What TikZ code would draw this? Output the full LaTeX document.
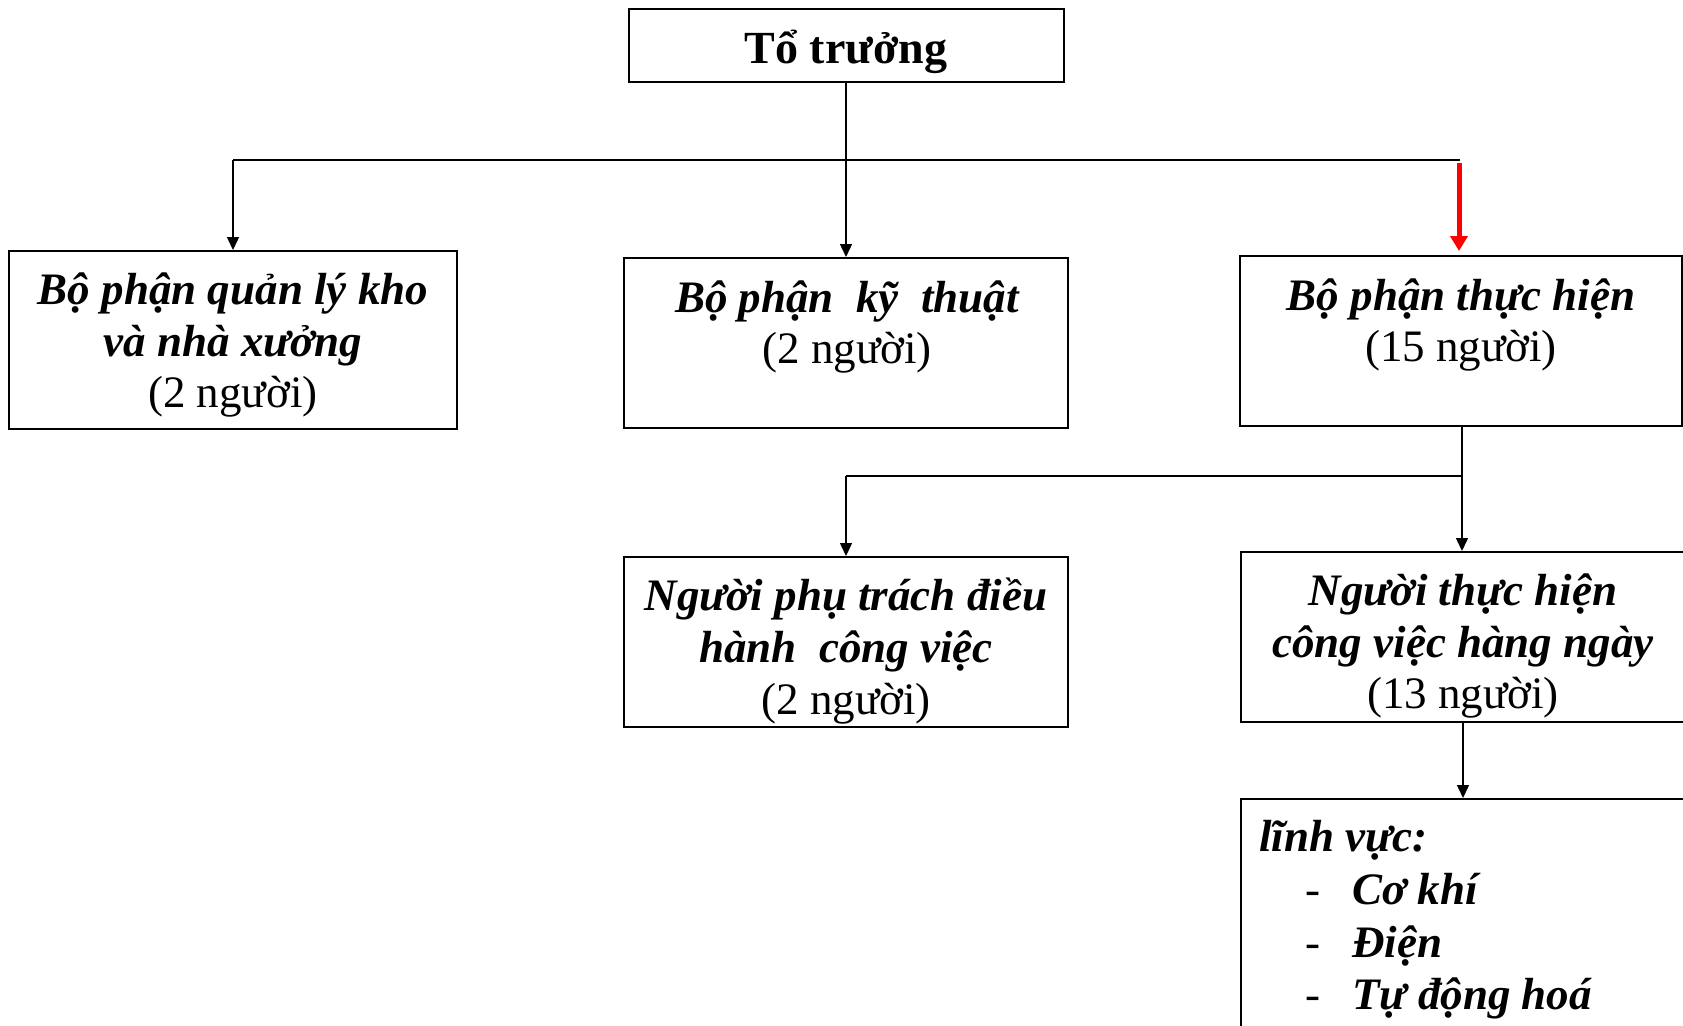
\documentclass[tikz,border=0pt]{standalone}
\usepackage{fontspec}
\setmainfont{Liberation Serif}
\usetikzlibrary{arrows.meta}

\tikzset{
  box/.style={draw, line width=1pt, inner sep=0pt},
  txt/.style={inner sep=0pt, align=center, font=\fontsize{22.5pt}{25.8pt}\selectfont},
  conn/.style={line width=0.7pt, -{Triangle[length=6.5pt,width=6pt]}},
  plain/.style={line width=0.7pt},
  redconn/.style={line width=2.5pt, red, -{Triangle[length=7.5pt,width=8.5pt]}}
}
\newcommand{\bi}[1]{{\bfseries\itshape #1}}
\newcommand{\dashitem}{\makebox[46.5pt][l]{\hspace{23pt}-}}

\begin{document}
\begin{tikzpicture}[x=0.5pt, y=-0.5pt]
  \useasboundingbox (0,0) rectangle (1683,1025);
  \clip (0,0) rectangle (1683,1025);

  % boxes
  \node[box, minimum width=217.5pt, minimum height=36.5pt] (head) at (846,45.5) {};
  \node[box, minimum width=224pt, minimum height=89pt] (store) at (233,340) {};
  \node[box, minimum width=222pt, minimum height=85pt] (tech) at (846,343) {};
  \node[box, minimum width=221pt, minimum height=85pt] (exec) at (1461,341) {};
  \node[box, minimum width=222pt, minimum height=85pt] (lead) at (846,642) {};
  \node[box, minimum width=222pt, minimum height=85pt] (daily) at (1463,637) {};
  \node[box, minimum width=222pt, minimum height=121pt] (fields) at (1463,920) {};

  % box texts
  \node[txt, font=\fontsize{23pt}{25.8pt}\selectfont\bfseries] (headtxt) at (846,51.5) {Tổ trưởng};
  \node[txt] (storetxt) at (233,345) {\bi{Bộ phận quản lý kho}\\\bi{và nhà xưởng}\\(2 người)};
  \node[txt] (techtxt) at (847,327) {\bi{Bộ phận~~kỹ~~thuật}\\(2 người)};
  \node[txt] (exectxt) at (1461,325) {\bi{Bộ phận thực hiện}\\(15 người)};
  \node[txt] (leadtxt) at (846,651) {\bi{Người phụ trách điều}\\\bi{hành~~công việc}\\(2 người)};
  \node[txt] (dailytxt) at (1463,646) {\bi{Người thực hiện}\\\bi{công việc hàng ngày}\\(13 người)};
  \node[inner sep=0pt, align=left, anchor=west, font=\fontsize{22.5pt}{26.3pt}\selectfont]
    (fieldstxt) at (1259,920)
    {\bi{lĩnh vực:}\\
     \dashitem\bi{Cơ khí}\\
     \dashitem\bi{Điện}\\
     \dashitem\bi{Tự động hoá}};

  % upper bus
  \coordinate (busL) at (233,160);
  \coordinate (busR) at (1460,160);
  \coordinate (redtop) at (1459,163);
  \draw[plain] (busL) -- (busR);
  \draw[conn] (head.south) -- (tech.north);
  \draw[conn] (busL) -- (store.north);
  \draw[redconn] (redtop) -- ([yshift=2pt]redtop |- exec.north);

  % lower bus
  \coordinate (bus2R) at (1462,476);
  \coordinate (bus2L) at (846,476);
  \draw[conn] (bus2R |- exec.south) -- (bus2R |- daily.north);
  \draw[plain] (bus2R) -- (bus2L);
  \draw[conn] (bus2L) -- (lead.north);
  \draw[conn] (daily.south) -- (fields.north);
\end{tikzpicture}
\end{document}
